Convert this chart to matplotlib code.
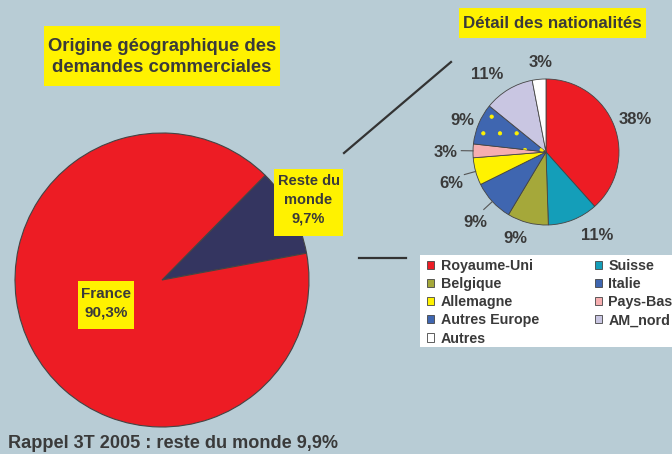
import numpy as np
import matplotlib
matplotlib.use("Agg")
import matplotlib.pyplot as plt
from matplotlib.patches import Rectangle, Wedge

plt.rcParams['font.family'] = ['Liberation Sans', 'DejaVu Sans']
plt.rcParams['hatch.linewidth'] = 0.6

# ---- données ----
main_labels = ["Reste du\nmonde\n9,7%", "France\n90,3%"]
main_values = [9.7, 90.3]
main_colors = ["#343560", "#ED1C24"]

nat_names = ["Royaume-Uni", "Suisse", "Belgique", "Italie", "Allemagne",
             "Pays-Bas", "Autres Europe", "AM_nord", "Autres"]
nat_values = [38, 11, 9, 9, 6, 3, 9, 11, 3]
nat_colors = ["#ED1C24", "#149EB9", "#A5A83A", "#3F66B0", "#FFF200",
              "#F6AEB0", "#3F66B0", "#C9C6E2", "#FFFFFF"]

BG = "#B8CCD5"
TXT = "#3A3A3A"
W, H = 672, 454

fig = plt.figure(figsize=(W / 100, H / 100), dpi=100)
fig.patch.set_facecolor(BG)


def px_axes(cx, cy, r):
    # axes carré centré sur (cx, cy) en pixels (origine en haut à gauche)
    return fig.add_axes([(cx - r) / W, (H - cy - r) / H, 2 * r / W, 2 * r / H])


def px_box(x0, y0, x1, y1, color="#FFF200"):
    fig.patches.append(Rectangle((x0 / W, 1 - y1 / H), (x1 - x0) / W, (y1 - y0) / H,
                                 transform=fig.transFigure, facecolor=color,
                                 edgecolor="none", zorder=0))


# ---- camembert principal ----
ax1 = px_axes(162, 280, 147)
ax1.pie(main_values, colors=main_colors, startangle=10.5, counterclock=True,
        radius=1, wedgeprops=dict(edgecolor="#444444", linewidth=0.8))
ax1.set_xlim(-1, 1)
ax1.set_ylim(-1, 1)
ax1.set_aspect("equal")
ax1.axis("off")

px_box(44, 26, 280, 86)
fig.text(162 / W, 1 - 57 / H, "Origine géographique des\ndemandes commerciales",
         ha="center", va="center", fontsize=13.3, fontweight="bold", color=TXT,
         linespacing=1.35)

px_box(274, 169, 343, 236)
fig.text(308.5 / W, 1 - 200 / H, main_labels[0], ha="center", va="center",
         fontsize=10.5, fontweight="bold", color=TXT, linespacing=1.45)

px_box(78, 281, 134, 329)
fig.text(106 / W, 1 - 303 / H, main_labels[1], ha="center", va="center",
         fontsize=11, fontweight="bold", color=TXT, linespacing=1.4)

fig.text(8 / W, 1 - 443 / H, "Rappel 3T 2005 : reste du monde 9,9%",
         ha="left", va="center", fontsize=13.1, fontweight="bold", color=TXT)

# ---- camembert détail ----
ax2 = px_axes(546, 152, 73)
wedges, _ = ax2.pie(nat_values, colors=nat_colors, startangle=90,
                    counterclock=False, radius=1,
                    wedgeprops=dict(edgecolor="#444444", linewidth=0.6))
ax2.set_xlim(-1, 1)
ax2.set_ylim(-1, 1)
ax2.set_aspect("equal")
ax2.axis("off")

# motif pointillé jaune pour "Autres Europe"
hw = wedges[6]
overlay = Wedge(hw.center, hw.r, hw.theta1, hw.theta2, facecolor="none",
                edgecolor="#FFF200", linewidth=0, hatch=".")
ax2.add_patch(overlay)

label_r = [1.3, 1.34, 1.26, 1.37, 1.36, 1.38, 1.23, 1.33, 1.23]
label_shift = [-1, 9.5, -5, 2, 3, 1, 2, 6.5, -2]
with_leader = [False, False, False, True, True, True, False, False, False]
total = sum(nat_values)
angle = 90.0
for v, r, sh, lead in zip(nat_values, label_r, label_shift, with_leader):
    span = 360.0 * v / total
    mid = np.deg2rad(angle - span / 2)
    pos = mid + np.deg2rad(sh)
    angle -= span
    ax2.text(r * np.cos(pos), r * np.sin(pos), f"{v}%", ha="center", va="center",
             fontsize=12, fontweight="bold", color=TXT)
    if lead:
        ax2.plot([np.cos(mid), 1.16 * np.cos(mid)], [np.sin(mid), 1.16 * np.sin(mid)],
                 color="#555555", lw=0.8, clip_on=False)

px_box(459, 8, 646, 38)
fig.text(552 / W, 1 - 23 / H, "Détail des nationalités", ha="center", va="center",
         fontsize=12.2, fontweight="bold", color=TXT)

# ---- traits de liaison ----
fig.add_artist(plt.Line2D([344 / W, 451 / W], [1 - 153 / H, 1 - 62 / H],
                          color="#333333", lw=1.6))
fig.add_artist(plt.Line2D([359 / W, 406 / W], [1 - 258 / H, 1 - 258 / H],
                          color="#333333", lw=1.6))

# ---- légende ----
px_box(420, 255, 672, 347, color="white")
order = [0, 2, 4, 6, 8, 1, 3, 5, 7]
handles = [wedges[i] if i != 6 else (wedges[6], overlay) for i in order]
leg = fig.legend(handles, [nat_names[i] for i in order], ncol=2,
                 loc="upper left", bbox_to_anchor=(427 / W, 1 - 259 / H),
                 frameon=False, prop=dict(weight="bold", size=10.3),
                 handlelength=0.5, handleheight=0.5, handletextpad=0.45,
                 labelspacing=0.29, columnspacing=3.9, borderpad=0,
                 borderaxespad=0)
for t in leg.get_texts():
    t.set_color(TXT)

fig.savefig("out.png", dpi=100, facecolor=BG)
